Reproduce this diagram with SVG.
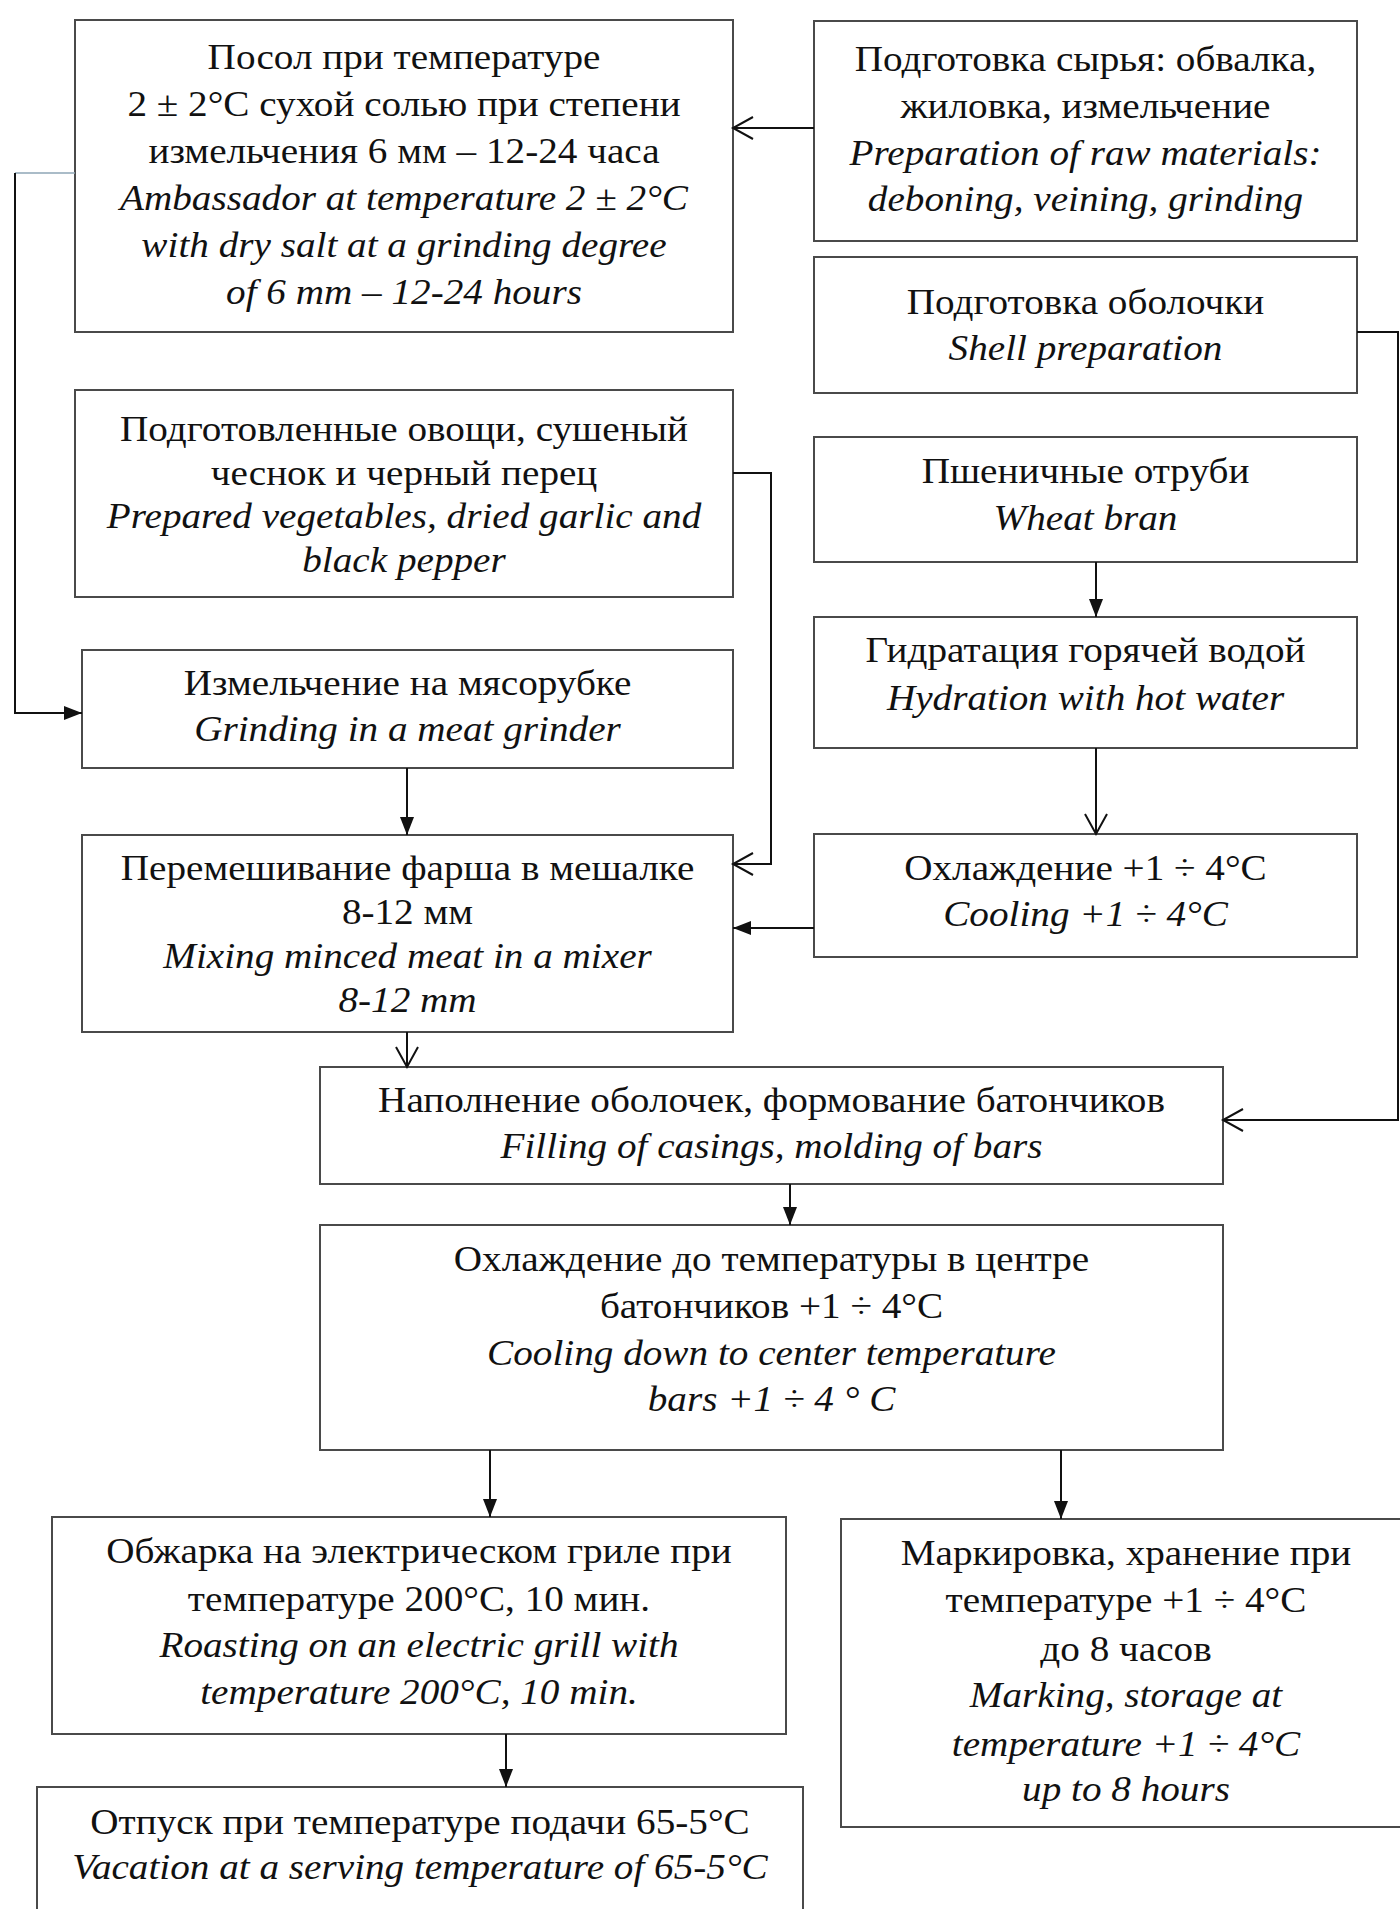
<svg xmlns="http://www.w3.org/2000/svg" width="1400" height="1909" viewBox="0 0 1400 1909">
<style>
.box{fill:#fff;stroke:#4a4a4a;stroke-width:2}
text{font-family:"Liberation Serif","Times New Roman",serif;font-size:35px;fill:#111;text-anchor:middle}
.i{font-style:italic}
.c{fill:none;stroke:#111;stroke-width:2}
</style>
<defs>
<marker id="fa" markerUnits="userSpaceOnUse" markerWidth="18" markerHeight="14" refX="18" refY="7" orient="auto" overflow="visible">
<path d="M0,0 L18,7 L0,14 z" fill="#111"/>
</marker>
<marker id="oa" markerUnits="userSpaceOnUse" markerWidth="20" markerHeight="22" refX="20" refY="11" orient="auto" overflow="visible">
<path d="M0,0 L20,11 L0,22" fill="none" stroke="#111" stroke-width="2"/>
</marker>
</defs>
<rect width="1400" height="1909" fill="#fff"/>

<g id="n1">
<rect class="box" x="75" y="20" width="658" height="312"/>
<g transform="translate(404 0) scale(1.12 1)">
<text y="69">Посол при температуре</text>
<text y="116">2 ± 2°C сухой солью при степени</text>
<text y="163">измельчения 6 мм – 12-24 часа</text>
<text class="i" y="210">Ambassador at temperature 2 ± 2°C</text>
<text class="i" y="257">with dry salt at a grinding degree</text>
<text class="i" y="304">of 6 mm – 12-24 hours</text>
</g>
</g>

<g id="n2">
<rect class="box" x="814" y="21" width="543" height="220"/>
<g transform="translate(1085.5 0) scale(1.12 1)">
<text y="71">Подготовка сырья: обвалка,</text>
<text y="118">жиловка, измельчение</text>
<text class="i" y="165">Preparation of raw materials:</text>
<text class="i" y="211">deboning, veining, grinding</text>
</g>
</g>

<g id="n3">
<rect class="box" x="814" y="257" width="543" height="136"/>
<g transform="translate(1085.5 0) scale(1.12 1)">
<text y="314">Подготовка оболочки</text>
<text class="i" y="360">Shell preparation</text>
</g>
</g>

<g id="n4">
<rect class="box" x="75" y="390" width="658" height="207"/>
<g transform="translate(404 0) scale(1.12 1)">
<text y="441">Подготовленные овощи, сушеный</text>
<text y="485">чеснок и черный перец</text>
<text class="i" y="528">Prepared vegetables, dried garlic and</text>
<text class="i" y="572">black pepper</text>
</g>
</g>

<g id="n5">
<rect class="box" x="814" y="437" width="543" height="125"/>
<g transform="translate(1085.5 0) scale(1.12 1)">
<text y="483">Пшеничные отруби</text>
<text class="i" y="530">Wheat bran</text>
</g>
</g>

<g id="n6">
<rect class="box" x="82" y="650" width="651" height="118"/>
<g transform="translate(407.5 0) scale(1.12 1)">
<text y="695">Измельчение на мясорубке</text>
<text class="i" y="741">Grinding in a meat grinder</text>
</g>
</g>

<g id="n7">
<rect class="box" x="814" y="617" width="543" height="131"/>
<g transform="translate(1085.5 0) scale(1.12 1)">
<text y="662">Гидратация горячей водой</text>
<text class="i" y="710">Hydration with hot water</text>
</g>
</g>

<g id="n8">
<rect class="box" x="82" y="835" width="651" height="197"/>
<g transform="translate(407.5 0) scale(1.12 1)">
<text y="880">Перемешивание фарша в мешалке</text>
<text y="924">8-12 мм</text>
<text class="i" y="968">Mixing minced meat in a mixer</text>
<text class="i" y="1012">8-12 mm</text>
</g>
</g>

<g id="n9">
<rect class="box" x="814" y="834" width="543" height="123"/>
<g transform="translate(1085.5 0) scale(1.12 1)">
<text y="880">Охлаждение +1 ÷ 4°C</text>
<text class="i" y="926">Cooling +1 ÷ 4°C</text>
</g>
</g>

<g id="n10">
<rect class="box" x="320" y="1067" width="903" height="117"/>
<g transform="translate(771.5 0) scale(1.12 1)">
<text y="1112">Наполнение оболочек, формование батончиков</text>
<text class="i" y="1158">Filling of casings, molding of bars</text>
</g>
</g>

<g id="n11">
<rect class="box" x="320" y="1225" width="903" height="225"/>
<g transform="translate(771.5 0) scale(1.12 1)">
<text y="1271">Охлаждение до температуры в центре</text>
<text y="1318">батончиков +1 ÷ 4°C</text>
<text class="i" y="1365">Cooling down to center temperature</text>
<text class="i" y="1411">bars +1 ÷ 4 ° C</text>
</g>
</g>

<g id="n12">
<rect class="box" x="52" y="1517" width="734" height="217"/>
<g transform="translate(419 0) scale(1.12 1)">
<text y="1563">Обжарка на электрическом гриле при</text>
<text y="1611">температуре 200°C, 10 мин.</text>
<text class="i" y="1657">Roasting on an electric grill with</text>
<text class="i" y="1704">temperature 200°C, 10 min.</text>
</g>
</g>

<g id="n13">
<rect class="box" x="841" y="1519" width="570" height="308"/>
<g transform="translate(1126 0) scale(1.12 1)">
<text y="1565">Маркировка, хранение при</text>
<text y="1612">температуре +1 ÷ 4°C</text>
<text y="1661">до 8 часов</text>
<text class="i" y="1707">Marking, storage at</text>
<text class="i" y="1756">temperature +1 ÷ 4°C</text>
<text class="i" y="1801">up to 8 hours</text>
</g>
</g>

<g id="n14">
<rect class="box" x="37" y="1787" width="766" height="140"/>
<g transform="translate(420 0) scale(1.12 1)">
<text y="1834">Отпуск при температуре подачи 65-5°C</text>
<text class="i" y="1879">Vacation at a serving temperature of 65-5°C</text>
</g>
</g>

<g id="connectors">
<path class="c" d="M814,128 L733,128" marker-end="url(#oa)"/>
<path d="M75,173 L15,173" fill="none" stroke="#8ea6b6" stroke-width="1.6"/>
<path class="c" d="M15,173 L15,713 L82,713" marker-end="url(#fa)"/>
<path class="c" d="M733,473 L771,473 L771,864 L733,864" marker-end="url(#oa)"/>
<path class="c" d="M1096,562 L1096,617" marker-end="url(#fa)"/>
<path class="c" d="M1096,748 L1096,834" marker-end="url(#oa)"/>
<path class="c" d="M814,928 L733,928" marker-end="url(#fa)"/>
<path class="c" d="M407,768 L407,835" marker-end="url(#fa)"/>
<path class="c" d="M407,1032 L407,1067" marker-end="url(#oa)"/>
<path class="c" d="M1357,332 L1398,332 L1398,1120 L1223,1120" marker-end="url(#oa)"/>
<path class="c" d="M790,1184 L790,1225" marker-end="url(#fa)"/>
<path class="c" d="M490,1450 L490,1517" marker-end="url(#fa)"/>
<path class="c" d="M1061,1450 L1061,1519" marker-end="url(#fa)"/>
<path class="c" d="M506,1734 L506,1787" marker-end="url(#fa)"/>
</g>
</svg>
